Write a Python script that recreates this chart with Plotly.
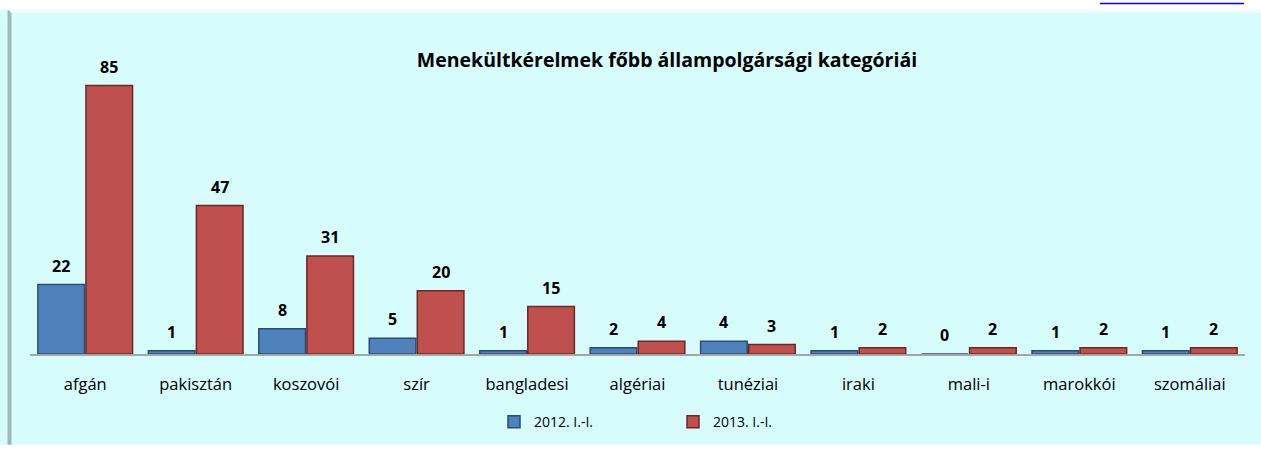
import plotly.graph_objects as go

# Asylum applications by citizenship, two periods
categories = ["afgán", "pakisztán", "koszovói", "szír", "bangladesi", "algériai",
              "tunéziai", "iraki", "mali-i", "marokkói", "szomáliai"]
series_2012 = [22, 1, 8, 5, 1, 2, 4, 1, 0, 1, 1]
series_2013 = [85, 47, 31, 20, 15, 4, 3, 2, 2, 2, 2]
series_names = ["2012. I.-I.", "2013. I.-I."]

W, H = 1261, 450
PW, PH = W - 46, 308          # plot area size in pixels
BG = "#D6FCFC"
BLUE, BLUE_EDGE = "#4F81BD", "#2B4C74"
RED, RED_EDGE = "#C0504D", "#6E2725"
FONT = "Open Sans"

fig = go.Figure()
fig.add_trace(go.Bar(x=categories, y=series_2012, name=series_names[0],
                     marker=dict(color=BLUE, line=dict(color=BLUE_EDGE, width=1.5))))
fig.add_trace(go.Bar(x=categories, y=series_2013, name=series_names[1],
                     marker=dict(color=RED, line=dict(color=RED_EDGE, width=1.5))))

# value labels above each bar
annotations = []
for vals, shift in ((series_2012, -24), (series_2013, 24)):
    for c, v in zip(categories, vals):
        annotations.append(dict(x=c, y=v, xref="x", yref="y", text=f"<b>{v}</b>",
                                showarrow=False, xshift=shift, yanchor="bottom", yshift=6,
                                font=dict(size=16, color="black", family=FONT)))

shapes = [
    # panel background with bevelled edges
    dict(type="rect", xref="paper", yref="paper", layer="below",
         x0=-30 / PW, x1=1 + 16 / PW, y0=-92 / PH, y1=(PH + 41) / PH,
         fillcolor=BG, line=dict(width=0)),
    dict(type="line", xref="paper", yref="paper", layer="below",
         x0=-20.5 / PW, x1=-20.5 / PW, y0=-92 / PH, y1=(PH + 40) / PH,
         line=dict(color="#9FB9B9", width=4)),
    dict(type="line", xref="paper", yref="paper", layer="below",
         x0=-20 / PW, x1=1 + 16 / PW, y0=(PH + 39.5) / PH, y1=(PH + 39.5) / PH,
         line=dict(color="#F4FFFF", width=3)),
    # link underline at top-right
    dict(type="line", xref="paper", yref="paper",
         x0=(1100 - 30) / PW, x1=(1244 - 30) / PW,
         y0=(358 - 3) / PH, y1=(358 - 3) / PH,
         line=dict(color="#0000FF", width=1.5)),
]

fig.update_layout(
    width=W, height=H,
    margin=dict(l=30, r=16, t=50, b=92),
    paper_bgcolor="white", plot_bgcolor=BG,
    barmode="group", bargap=0.13, bargroupgap=0.03,
    title=dict(text="<b>Menekültkérelmek főbb állampolgársági kategóriái</b>",
               x=667 / W, xanchor="center", y=1 - 60 / H, yanchor="middle",
               xref="container", yref="container",
               font=dict(size=19.5, color="black", family=FONT)),
    font=dict(family=FONT, color="black"),
    xaxis=dict(showline=True, linecolor="#A6A6A6", linewidth=1.5,
               ticks="outside", ticklen=14, tickcolor="rgba(0,0,0,0)",
               tickfont=dict(size=16.5, color="black", family=FONT)),
    yaxis=dict(range=[0, PH / 3.2], visible=False, showgrid=False, zeroline=False),
    legend=dict(orientation="h", x=(494 - 30) / PW, xanchor="left",
                y=-69 / PH, yanchor="middle",
                font=dict(size=14, color="black", family=FONT),
                entrywidth=134, entrywidthmode="pixels",
                itemwidth=30, bgcolor="rgba(0,0,0,0)"),
    annotations=annotations,
    shapes=shapes,
)

fig.write_html("out.html")
